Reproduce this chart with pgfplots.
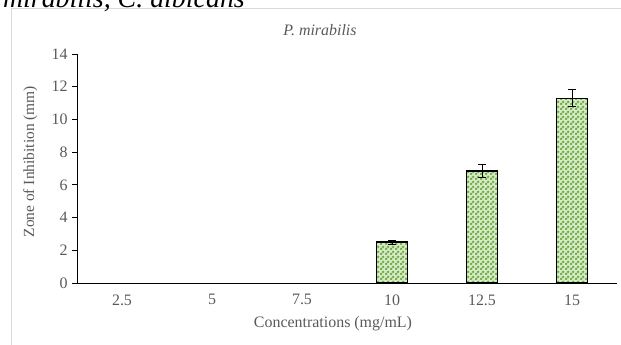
\documentclass[border=0pt]{standalone}
\usepackage{pgfplots}
\pgfplotsset{compat=1.18}
\usepackage{fontspec}
\setmainfont{Liberation Serif}
\usetikzlibrary{patterns}
\definecolor{txtgray}{RGB}{89,89,89}
\definecolor{framegray}{RGB}{217,217,217}
\definecolor{bardot}{RGB}{112,173,71}
\definecolor{barbg}{RGB}{215,235,200}
\pgfdeclarepatternformonly{greendots}{\pgfpointorigin}{\pgfpoint{5bp}{5bp}}{\pgfpoint{5bp}{5bp}}{%
  \pgfpathcircle{\pgfpoint{1.25bp}{1.25bp}}{1.7bp}%
  \pgfpathcircle{\pgfpoint{3.75bp}{3.75bp}}{1.7bp}%
  \pgfusepath{fill}}
\begin{document}
\begin{tikzpicture}
\useasboundingbox (0,0) rectangle (621bp,-345bp);
\clip (0,0) rectangle (621bp,-345bp);
\draw[framegray, line width=1.2bp] (11.5bp,-8.5bp) rectangle (640bp,-360bp);
\node[anchor=base east, inner sep=0pt, font=\fontsize{28}{30}\selectfont\itshape] at (245bp,-7bp) {mirabilis, C. albicans};
\node[font=\fontsize{16}{18}\selectfont\itshape, text=txtgray] at (320bp,-30bp) {P. mirabilis};
\begin{axis}[
  at={(77bp,-283bp)}, anchor=south west,
  scale only axis, width=540bp, height=229bp,
  xmin=-0.5, xmax=5.5, ymin=0, ymax=14,
  axis x line=bottom, axis y line=left,
  axis line style={-, black, line width=0.8bp},
  xtick={0,1,2,3,4,5},
  xticklabels={2.5,5,7.5,10,12.5,15},
  extra x ticks={0.5,1.5,2.5,3.5,4.5,5.5},
  extra x tick labels={},
  extra x tick style={major tick length=5bp, tick style={black, line width=0.8bp}},
  ytick={0,2,...,14},
  tick align=outside,
  x tick style={draw=none},
  y tick style={black, line width=0.8bp},
  major tick length=5bp,
  tick label style={font=\fontsize{16}{18}\selectfont, text=txtgray},
  /pgf/number format/assume math mode=true,
  xticklabel style={yshift=-3bp},
  yticklabel style={xshift=-1bp},
  xlabel={Concentrations (mg/mL)},
  ylabel={Zone of Inhibition (mm)},
  label style={font=\fontsize{16}{18}\selectfont, text=txtgray},
  xlabel style={at={(0.474,0)}, anchor=north, yshift=-30bp},
  ylabel style={at={(0,0.53)}, anchor=south, yshift=36bp, font=\fontsize{15.5}{17}\selectfont},
  clip=false,
]
\addplot[ybar, bar width=31bp, draw=black, line width=1.3bp,
  fill=barbg, postaction={pattern=greendots, pattern color=bardot},
  error bars/.cd, y dir=both, y explicit,
  error bar style={black, line width=1bp},
  error mark options={rotate=90, mark size=4bp, black, line width=1bp}]
  coordinates {
  (3,2.5) +- (0,0.12)
  (4,6.85) +- (0,0.37)
  (5,11.3) +- (0,0.5)
  };
\end{axis}
\end{tikzpicture}
\end{document}
